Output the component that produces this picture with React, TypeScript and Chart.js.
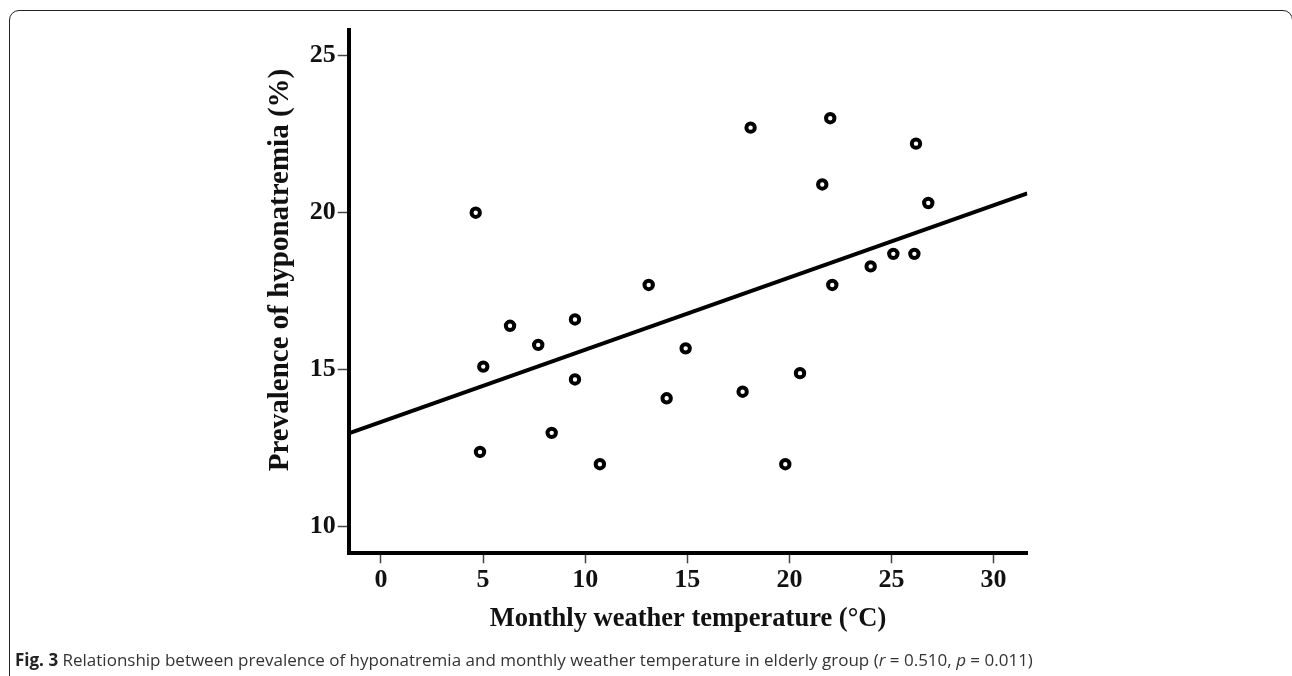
import React, { useEffect, useRef } from "react";
import { Chart, registerables } from "chart.js";

Chart.register(...registerables);

// Monthly weather temperature (°C)
const temperature = [
  4.64, 13.11, 6.32, 9.5, 7.7, 5.01, 9.5, 14.92, 13.99, 8.36, 4.85, 10.72,
  18.1, 22.0, 26.2, 21.61, 26.8, 25.09, 26.12, 23.98, 22.1, 17.71, 20.52, 19.8,
];
// Prevalence of hyponatremia (%)
const prevalence = [
  20.0, 17.7, 16.4, 16.6, 15.79, 15.1, 14.69, 15.68, 14.09, 12.99, 12.38, 11.99,
  22.71, 23.01, 22.2, 20.9, 20.31, 18.69, 18.69, 18.29, 17.7, 14.3, 14.89, 11.99,
];
// Fitted regression line end points
const fitX = [-1.58, 31.65];
const fitY = [12.97, 20.62];

const xTicks = [0, 5, 10, 15, 20, 25, 30];
const yTicks = [10, 15, 20, 25];
const xRange = [-1.58, 31.65];
const yRange = [9.153, 25.82];

const xTitle = "Monthly weather temperature (°C)";
const yTitle = "Prevalence of hyponatremia (%)";

const serif = '"Liberation Serif", "Times New Roman", serif';

const yTitlePlugin = {
  id: "yTitleText",
  afterDraw(chart: any) {
    const ctx = chart.ctx as CanvasRenderingContext2D;
    ctx.save();
    ctx.translate(288, 270);
    ctx.rotate(-Math.PI / 2);
    ctx.font = `bold 29px ${serif}`;
    ctx.fillStyle = "#111";
    ctx.textAlign = "center";
    ctx.textBaseline = "alphabetic";
    ctx.fillText(yTitle, 0, 0);
    ctx.restore();
  },
};

export default function App() {
  const ref = useRef<HTMLCanvasElement | null>(null);

  useEffect(() => {
    document.body.style.margin = "0";
    const canvas = ref.current;
    if (!canvas) return;
    const tickFont = { family: serif, size: 26, weight: "bold" as const };
    const titleFont = { family: serif, size: 26.5, weight: "bold" as const, lineHeight: 1.2 };
    const chart = new Chart(canvas, {
      type: "scatter",
      data: {
        datasets: [
          {
            type: "scatter",
            data: temperature.map((t, i) => ({ x: t, y: prevalence[i] })),
            pointStyle: "circle",
            pointRadius: 4.2,
            pointHoverRadius: 4.2,
            pointBorderWidth: 4,
            borderColor: "#000",
            backgroundColor: "#fff",
            pointBackgroundColor: "#fff",
            pointBorderColor: "#000",
            order: 1,
          },
          {
            type: "line",
            data: fitX.map((x, i) => ({ x, y: fitY[i] })),
            borderColor: "#000",
            borderWidth: 4,
            pointRadius: 0,
            fill: false,
            order: 2,
          } as any,
        ],
      },
      options: {
        responsive: false,
        animation: false,
        devicePixelRatio: 1,
        layout: { padding: { left: 258.7, top: 30, right: 264.7, bottom: 32.7 } },
        plugins: { legend: { display: false }, tooltip: { enabled: false } },
        scales: {
          x: {
            type: "linear",
            min: xRange[0],
            max: xRange[1],
            afterBuildTicks: (s: any) => {
              s.ticks = xTicks.map((v) => ({ value: v }));
            },
            afterFit: (s: any) => {
              s.height = 90;
            },
            grid: {
              drawOnChartArea: false,
              drawTicks: true,
              tickLength: 10,
              tickWidth: 1.5,
              tickColor: "#444",
            },
            border: { display: true, color: "#000", width: 4 },
            ticks: { font: tickFont, color: "#111", padding: 1, maxRotation: 0, autoSkip: false },
            title: { display: true, text: xTitle, font: titleFont, color: "#111", padding: { top: 0, bottom: 8 } },
          },
          y: {
            type: "linear",
            min: yRange[0],
            max: yRange[1],
            afterBuildTicks: (s: any) => {
              s.ticks = yTicks.map((v) => ({ value: v }));
            },
            afterFit: (s: any) => {
              s.width = 90;
            },
            grid: {
              drawOnChartArea: false,
              drawTicks: true,
              tickLength: 11,
              tickWidth: 1.5,
              tickColor: "#444",
            },
            border: { display: true, color: "#000", width: 4 },
            ticks: { font: tickFont, color: "#111", padding: 2, autoSkip: false },
            title: { display: false, text: yTitle },
          },
        },
      },
      plugins: [yTitlePlugin],
    });
    return () => chart.destroy();
  }, []);

  return (
    <div style={{ position: "fixed", left: 0, top: 0, width: 1292, height: 676, background: "#fff", overflow: "hidden" }}>
      <div
        style={{
          position: "absolute",
          left: 9,
          top: 10,
          width: 1284,
          height: 720,
          border: "1.5px solid #222",
          borderRadius: 10,
          boxSizing: "border-box",
        }}
      />
      <canvas ref={ref} width={1292} height={676} style={{ position: "absolute", left: 0, top: 0, width: 1292, height: 676 }} />
      <div
        style={{
          position: "absolute",
          left: 15,
          top: 650.6,
          fontFamily: '"Open Sans", sans-serif',
          fontSize: 17,
          lineHeight: "17px",
          whiteSpace: "nowrap",
          color: "#333",
        }}
      >
        <b style={{ color: "#222" }}>Fig. 3</b> Relationship between prevalence of hyponatremia and monthly weather temperature in elderly group (<i>r</i> = 0.510, <i>p</i> = 0.011)
      </div>
    </div>
  );
}
